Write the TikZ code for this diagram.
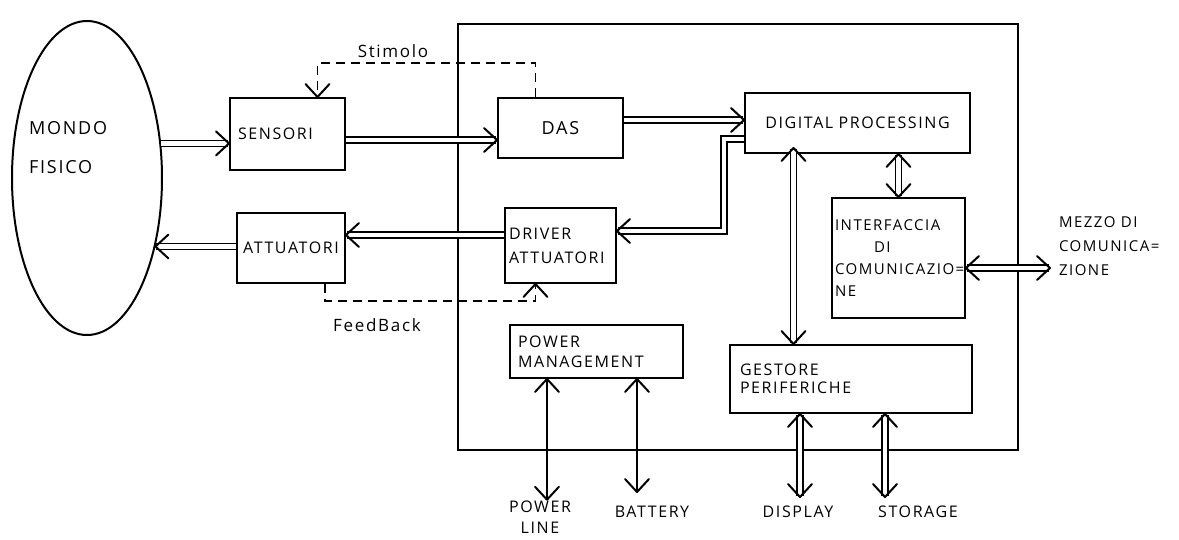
\documentclass[tikz,border=0pt]{standalone}
\usepackage{fontspec}
\setmainfont{Open Sans}[LetterSpace=10]
\usetikzlibrary{shapes.geometric,calc}
\newcommand{\fs}[2]{\fontsize{#1}{#2}\selectfont}
\tikzset{
  dline/.style={double,double distance=4.5pt,line width=1.6pt},
  sline/.style={line width=1.8pt},
  dsh/.style={line width=1.8pt,dash pattern=on 9pt off 6pt},
  chevl/.style={line width=2pt,line cap=round,line join=round},
}
% open chevron head at #2, pointing from #1 to #2 (#1,#2 named coordinates)
\newcommand{\chevron}[2]{\coordinate (cvP) at ($(#2)!13pt!(#1)$);
  \draw[chevl] ($(cvP)!12pt!90:(#2)$) -- (#2) -- ($(cvP)!12pt!-90:(#2)$);}
\newcommand{\arone}[2]{\draw[dline,shorten >=1pt] (#1) -- (#2); \chevron{#1}{#2}}
\newcommand{\artwo}[2]{\draw[dline,shorten >=1pt,shorten <=1pt] (#1) -- (#2); \chevron{#1}{#2}\chevron{#2}{#1}}
\begin{document}
\begin{tikzpicture}[x=1pt,y=-1pt,line width=2pt,
  box/.style={draw,rectangle,inner xsep=8pt,inner ysep=0pt,align=left,font=\fs{16}{21}},
  lbl/.style={inner sep=0pt,align=center,font=\fs{16}{21}}]
\useasboundingbox (0,0) rectangle (1179,539);
% physical world
\node[draw,ellipse,minimum width=150,minimum height=314,inner sep=0pt] (mondo) at (87,178) {};
\node[lbl,font=\fs{18}{39},align=left,anchor=north west] (mondot) at (28,120) {MONDO\\FISICO};
% system boundary
\node[draw,rectangle,minimum width=560,minimum height=426,inner sep=0pt] (sys) at (738,237) {};
% boxes
\node[box,text width=99,minimum height=72] (sens) at (287.5,134) {SENSORI};
\node[box,text width=100,minimum height=70,inner xsep=4pt,align=center] (att) at (291,248) {ATTUATORI};
\node[box,text width=109,minimum height=60,align=center,font=\fs{18}{20}] (das) at (560.5,128) {DAS};
\node[box,text width=215,minimum height=60,inner xsep=5pt,align=center,font=\fs{16}{20}] (dp) at (857.5,123) {DIGITAL PROCESSING};
\node[box,text width=103,minimum height=75,inner xsep=4pt,font=\fs{16}{24}] (drv) at (560.5,245.5) {DRIVER\\ATTUATORI\\[6pt]};
\node[box,text width=127,minimum height=120,inner xsep=3pt,font=\fs{15}{22}] (itf) at (898.5,258) {INTERFACCIA\\\hspace*{2.6em}DI\\COMUNICAZIO=\\NE};
\node[box,text width=157,minimum height=53,font=\fs{16}{20}] (pm) at (596.5,351.5) {POWER\\MANAGEMENT};
\node[box,text width=222,minimum height=68,inner xsep=10pt,font=\fs{16}{18}] (ges) at (851,379) {GESTORE\\PERIFERICHE};
% outside labels
\node[lbl,align=left,anchor=west,font=\fs{15}{24}] (mezzo) at (1058,246) {MEZZO DI\\COMUNICA=\\ZIONE};
\node[lbl] (pline) at (540,517) {POWER\\LINE};
\node[lbl] (batt) at (652,512) {BATTERY};
\node[lbl] (disp) at (798,512) {DISPLAY};
\node[lbl] (stor) at (918,512) {STORAGE};
\node[lbl,font=\fs{17}{18}] (stim) at (393,51) {Stimolo};
\node[lbl,font=\fs{17}{18}] (feed) at (377,325) {FeedBack};
% connector end points
\coordinate (m1) at (mondo.25);
\coordinate (s1) at (sens.west |- m1);
\coordinate (s2) at (sens.east |- 0,140);
\coordinate (d1) at (das.west |- 0,140);
\coordinate (d2) at (das.east |- 0,120);
\coordinate (p1) at (dp.west |- 0,120);
\coordinate (p2) at (dp.west |- 0,139);
\coordinate (k1) at (724,139);
\coordinate (k2) at (724,231);
\coordinate (r1) at (drv.east |- k2);
\coordinate (r2) at (drv.west |- 0,235);
\coordinate (a1) at (att.east |- r2);
\coordinate (m2) at (mondo.-45);
\coordinate (a2) at (att.west |- m2);
\coordinate (p3) at ([xshift=-64,yshift=6]dp.south);
\coordinate (g1) at (p3 |- ges.north);
\coordinate (p4) at (dp.south -| itf.north);
\coordinate (i1) at (itf.north);
\coordinate (i2) at ([yshift=-10]itf.east);
\coordinate (z1) at (1050,0 |- i2);
\coordinate (g2) at (ges.south -| 800,0);
\coordinate (dsp) at (800,497);
\coordinate (g3) at (ges.south -| 885,0);
\coordinate (sto) at (885,497);
\coordinate (w1) at (pm.south -| 547,0);
\coordinate (pl) at (pline.north -| w1);
\coordinate (w2) at (pm.south -| 637,0);
\coordinate (bt) at (637,492);
\coordinate (t1) at ([xshift=-25]das.north);
\coordinate (t2) at ([xshift=30]sens.north);
\coordinate (t3) at ($(t2)+(0,-10)$);
\coordinate (f1) at ([xshift=34]att.south);
\coordinate (f2) at ([xshift=-25]drv.south);
\coordinate (f3) at ($(f2)+(0,10)$);
% double arrows
\arone{m1}{s1}
\arone{s2}{d1}
\arone{d2}{p1}
\draw[dline,shorten >=1pt] (p2) -- (k1) -- (k2) -- (r1);
\chevron{k2}{r1}
\arone{r2}{a1}
\arone{a2}{m2}
\artwo{p3}{g1}
\artwo{p4}{i1}
\artwo{i2}{z1}
\artwo{g2}{dsp}
\artwo{g3}{sto}
% single arrows
\draw[sline] (w1) -- (pl); \chevron{pl}{w1} \chevron{w1}{pl}
\draw[sline] (w2) -- (bt); \chevron{bt}{w2} \chevron{w2}{bt}
% dashed loops
\draw[dsh] (t1) -- ++(0,-34) -| (t2); \chevron{t3}{t2}
\draw[dsh] (f1) -- ++(0,17) -| (f2); \chevron{f3}{f2}
\end{tikzpicture}
\end{document}
